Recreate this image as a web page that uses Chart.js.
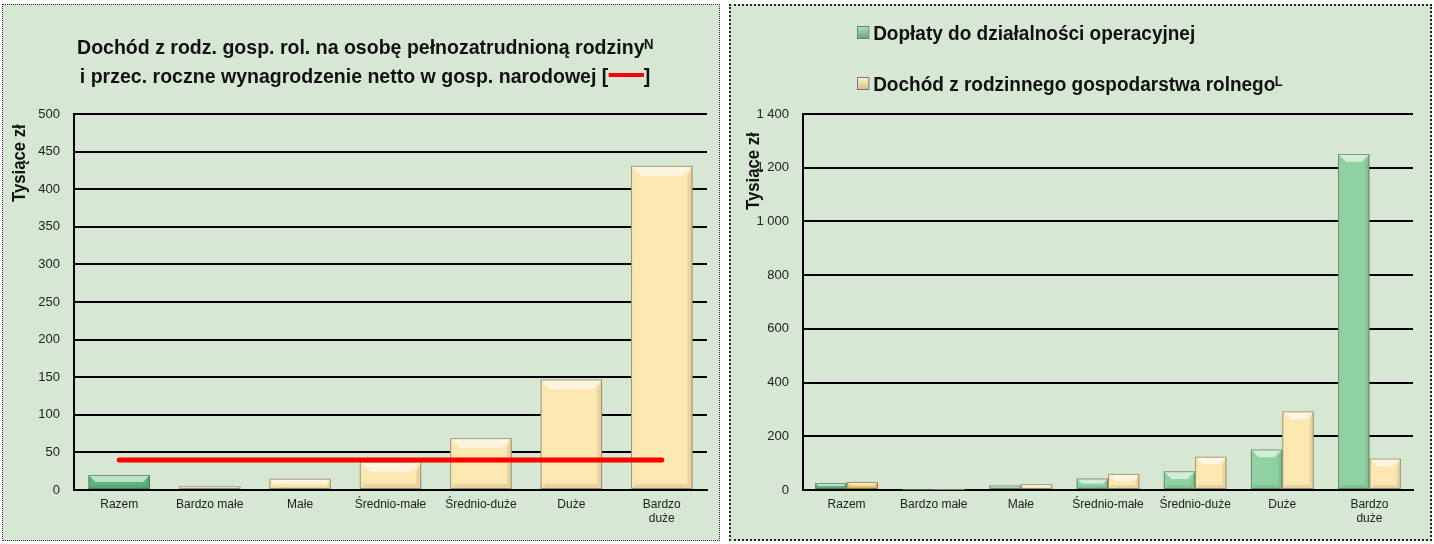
<!DOCTYPE html>
<html>
<head>
<meta charset="utf-8">
<script src="https://cdn.jsdelivr.net/npm/chart.js@4.4.1/dist/chart.umd.min.js"></script>
<style>
  body { margin: 0; background: #fff; width: 1434px; height: 544px; position: relative; overflow: hidden;
         font-family: 'Liberation Sans Narrow', 'Arial Narrow', 'Liberation Sans', sans-serif; }
  .panel { position: absolute; box-sizing: border-box; background: #d6e7d3; }
  canvas { position: absolute; top: 0; }
  .title { position: absolute; font-weight: bold; font-size: 21px; line-height: 29px; color: #111; text-align: center; white-space: nowrap;
           transform: scaleX(0.93); transform-origin: 365px 0; }
  .ytitle { position: absolute; font-weight: bold; font-size: 19px; color: #111; transform: rotate(-90deg) scaleX(0.88); transform-origin: left top; white-space: nowrap; }
  .leg { position: absolute; font-weight: bold; font-size: 20px; color: #111; white-space: nowrap; transform: scaleX(0.95); transform-origin: left top; }
  .box { display: inline-block; width: 11px; height: 11px; margin-right: 4px; border: 1px solid #777; vertical-align: 1px; }
  .redline { display: inline-block; width: 38px; height: 4px; background: #f00; vertical-align: 6px; }
</style>
</head>
<body>
<div class="panel" style="left:2px;top:4px;width:718px;height:537px;border:1px dotted #333"></div>
<div class="panel" style="left:729px;top:4px;width:703px;height:537px;border:2px dotted #222"></div>

<canvas id="incomeChart" width="720" height="544" style="left:0"></canvas>
<canvas id="subsidyChart" width="709" height="544" style="left:725px"></canvas>

<div class="title" style="left:0;width:730px;top:32px">Dochód z rodz. gosp. rol. na osobę pełnozatrudnioną rodzinyᴺ<br>i przec. roczne wynagrodzenie netto w gosp. narodowej [<span class="redline"></span>]</div>
<div class="ytitle" style="left:8px;top:202px">Tysiące zł</div>
<div class="ytitle" style="left:742px;top:210px">Tysiące zł</div>
<div class="leg" style="left:857px;top:22px"><span class="box" style="background:linear-gradient(#a8e0b4,#5fae78)"></span>Dopłaty do działalności operacyjnej</div>
<div class="leg" style="left:857px;top:73px"><span class="box" style="background:linear-gradient(#fff3cf,#d9bd7c)"></span>Dochód z rodzinnego gospodarstwa rolnegoᴸ</div>

<script>
const categories = ['Razem', 'Bardzo małe', 'Małe', 'Średnio-małe', 'Średnio-duże', 'Duże', ['Bardzo', 'duże']];

// lewy wykres: dochód na osobę pełnozatrudnioną rodziny i wynagrodzenie netto
const incomePerPerson = [20, 5, 15, 38, 69, 147, 431];
const netWage = [40, 40, 40, 40, 40, 40, 40];
const leftTicks = [0, 50, 100, 150, 200, 250, 300, 350, 400, 450, 500];

// prawy wykres: dopłaty i dochód z gospodarstwa
const subsidies = [26, 2, 17, 43, 70, 151, 1251];
const familyIncome = [30, 2, 22, 60, 124, 293, 117];
const rightTicks = [0, 200, 400, 600, 800, 1000, 1200, 1400];

const GREEN = '#8fd1a0', GREEN_DARK = '#5cb57c';
const CREAM = '#fce7b1', GOLD = '#e8c45a';
const FONT = "'Liberation Sans Narrow', 'Arial Narrow', 'Liberation Sans', sans-serif";

// efekt "fazowania" słupków
const bevel = {
    id: 'bevel',
    afterDatasetDraw(chart, args) {
        const meta = args.meta;
        if (meta.type !== 'bar') return;
        const ctx = chart.ctx;
        meta.data.forEach(bar => {
            const left = bar.x - bar.width / 2, right = bar.x + bar.width / 2;
            const top = bar.y, bottom = bar.base;
            const h = bottom - top;
            if (h < 2) return;
            const d = Math.min(10, h / 2, bar.width / 4);
            ctx.save();
            // górna faza
            ctx.fillStyle = 'rgba(255,255,255,0.6)';
            ctx.beginPath();
            ctx.moveTo(left, top); ctx.lineTo(right, top);
            ctx.lineTo(right - d, top + d); ctx.lineTo(left + d, top + d);
            ctx.closePath(); ctx.fill();
            // boki i dół
            ctx.fillStyle = 'rgba(0,0,0,0.08)';
            ctx.beginPath();
            ctx.moveTo(right, top); ctx.lineTo(right, bottom);
            ctx.lineTo(right - d / 2, bottom - d / 2); ctx.lineTo(right - d / 2, top + d);
            ctx.closePath(); ctx.fill();
            ctx.beginPath();
            ctx.moveTo(left, bottom); ctx.lineTo(right, bottom);
            ctx.lineTo(right - d / 2, bottom - d / 2); ctx.lineTo(left + d / 2, bottom - d / 2);
            ctx.closePath(); ctx.fill();
            ctx.strokeStyle = 'rgba(80,80,60,0.55)';
            ctx.lineWidth = 1;
            ctx.strokeRect(left + 0.5, top + 0.5, bar.width - 1, h - 1);
            ctx.restore();
        });
    }
};

function fmt(v) {
    return String(v).replace(/\B(?=(\d{3})+(?!\d))/g, ' ');
}

function axes(ticksList, yWidth, xHeight) {
    return {
        x: {
            grid: { display: false, drawTicks: false },
            border: { display: true, color: '#000', width: 2 },
            ticks: { color: '#222', font: { family: FONT, size: 12 }, padding: 7, maxRotation: 0, autoSkip: false },
            afterFit: s => { s.height = xHeight; }
        },
        y: {
            min: ticksList[0],
            max: ticksList[ticksList.length - 1],
            afterBuildTicks: s => { s.ticks = ticksList.map(v => ({ value: v })); },
            grid: { color: '#000', lineWidth: 2, drawTicks: false },
            border: { display: true, color: '#000', width: 2 },
            ticks: { color: '#222', font: { family: FONT, size: 13 }, padding: 14, callback: v => fmt(v) },
            afterFit: s => { s.width = yWidth; }
        }
    };
}

new Chart(document.getElementById('incomeChart'), {
    type: 'bar',
    data: {
        labels: categories,
        datasets: [{
            type: 'line',
            label: 'Wynagrodzenie netto',
            data: netWage,
            borderColor: '#ff0000',
            borderWidth: 5,
            pointRadius: 0,
            borderCapStyle: 'round',
            order: 0
        }, {
            label: 'Dochód na osobę',
            data: incomePerPerson,
            backgroundColor: incomePerPerson.map((v, i) => i === 0 ? GREEN_DARK : CREAM),
            barPercentage: 0.68,
            categoryPercentage: 1,
            order: 1
        }]
    },
    options: {
        responsive: false,
        animation: false,
        layout: { padding: { left: 0, right: 13, top: 114, bottom: 0 } },
        plugins: { legend: { display: false }, tooltip: { enabled: false } },
        scales: axes(leftTicks, 74, 54)
    },
    plugins: [bevel]
});

new Chart(document.getElementById('subsidyChart'), {
    type: 'bar',
    data: {
        labels: categories,
        datasets: [{
            label: 'Dopłaty do działalności operacyjnej',
            data: subsidies,
            backgroundColor: subsidies.map((v, i) => i === 0 ? GREEN_DARK : GREEN),
            barPercentage: 1,
            categoryPercentage: 0.72
        }, {
            label: 'Dochód z rodzinnego gospodarstwa rolnego',
            data: familyIncome,
            backgroundColor: familyIncome.map((v, i) => i === 0 ? GOLD : CREAM),
            barPercentage: 1,
            categoryPercentage: 0.72
        }]
    },
    options: {
        responsive: false,
        animation: false,
        layout: { padding: { left: 0, right: 21, top: 114, bottom: 0 } },
        plugins: { legend: { display: false }, tooltip: { enabled: false } },
        scales: axes(rightTicks, 78, 54)
    },
    plugins: [bevel]
});
</script>
</body>
</html>
